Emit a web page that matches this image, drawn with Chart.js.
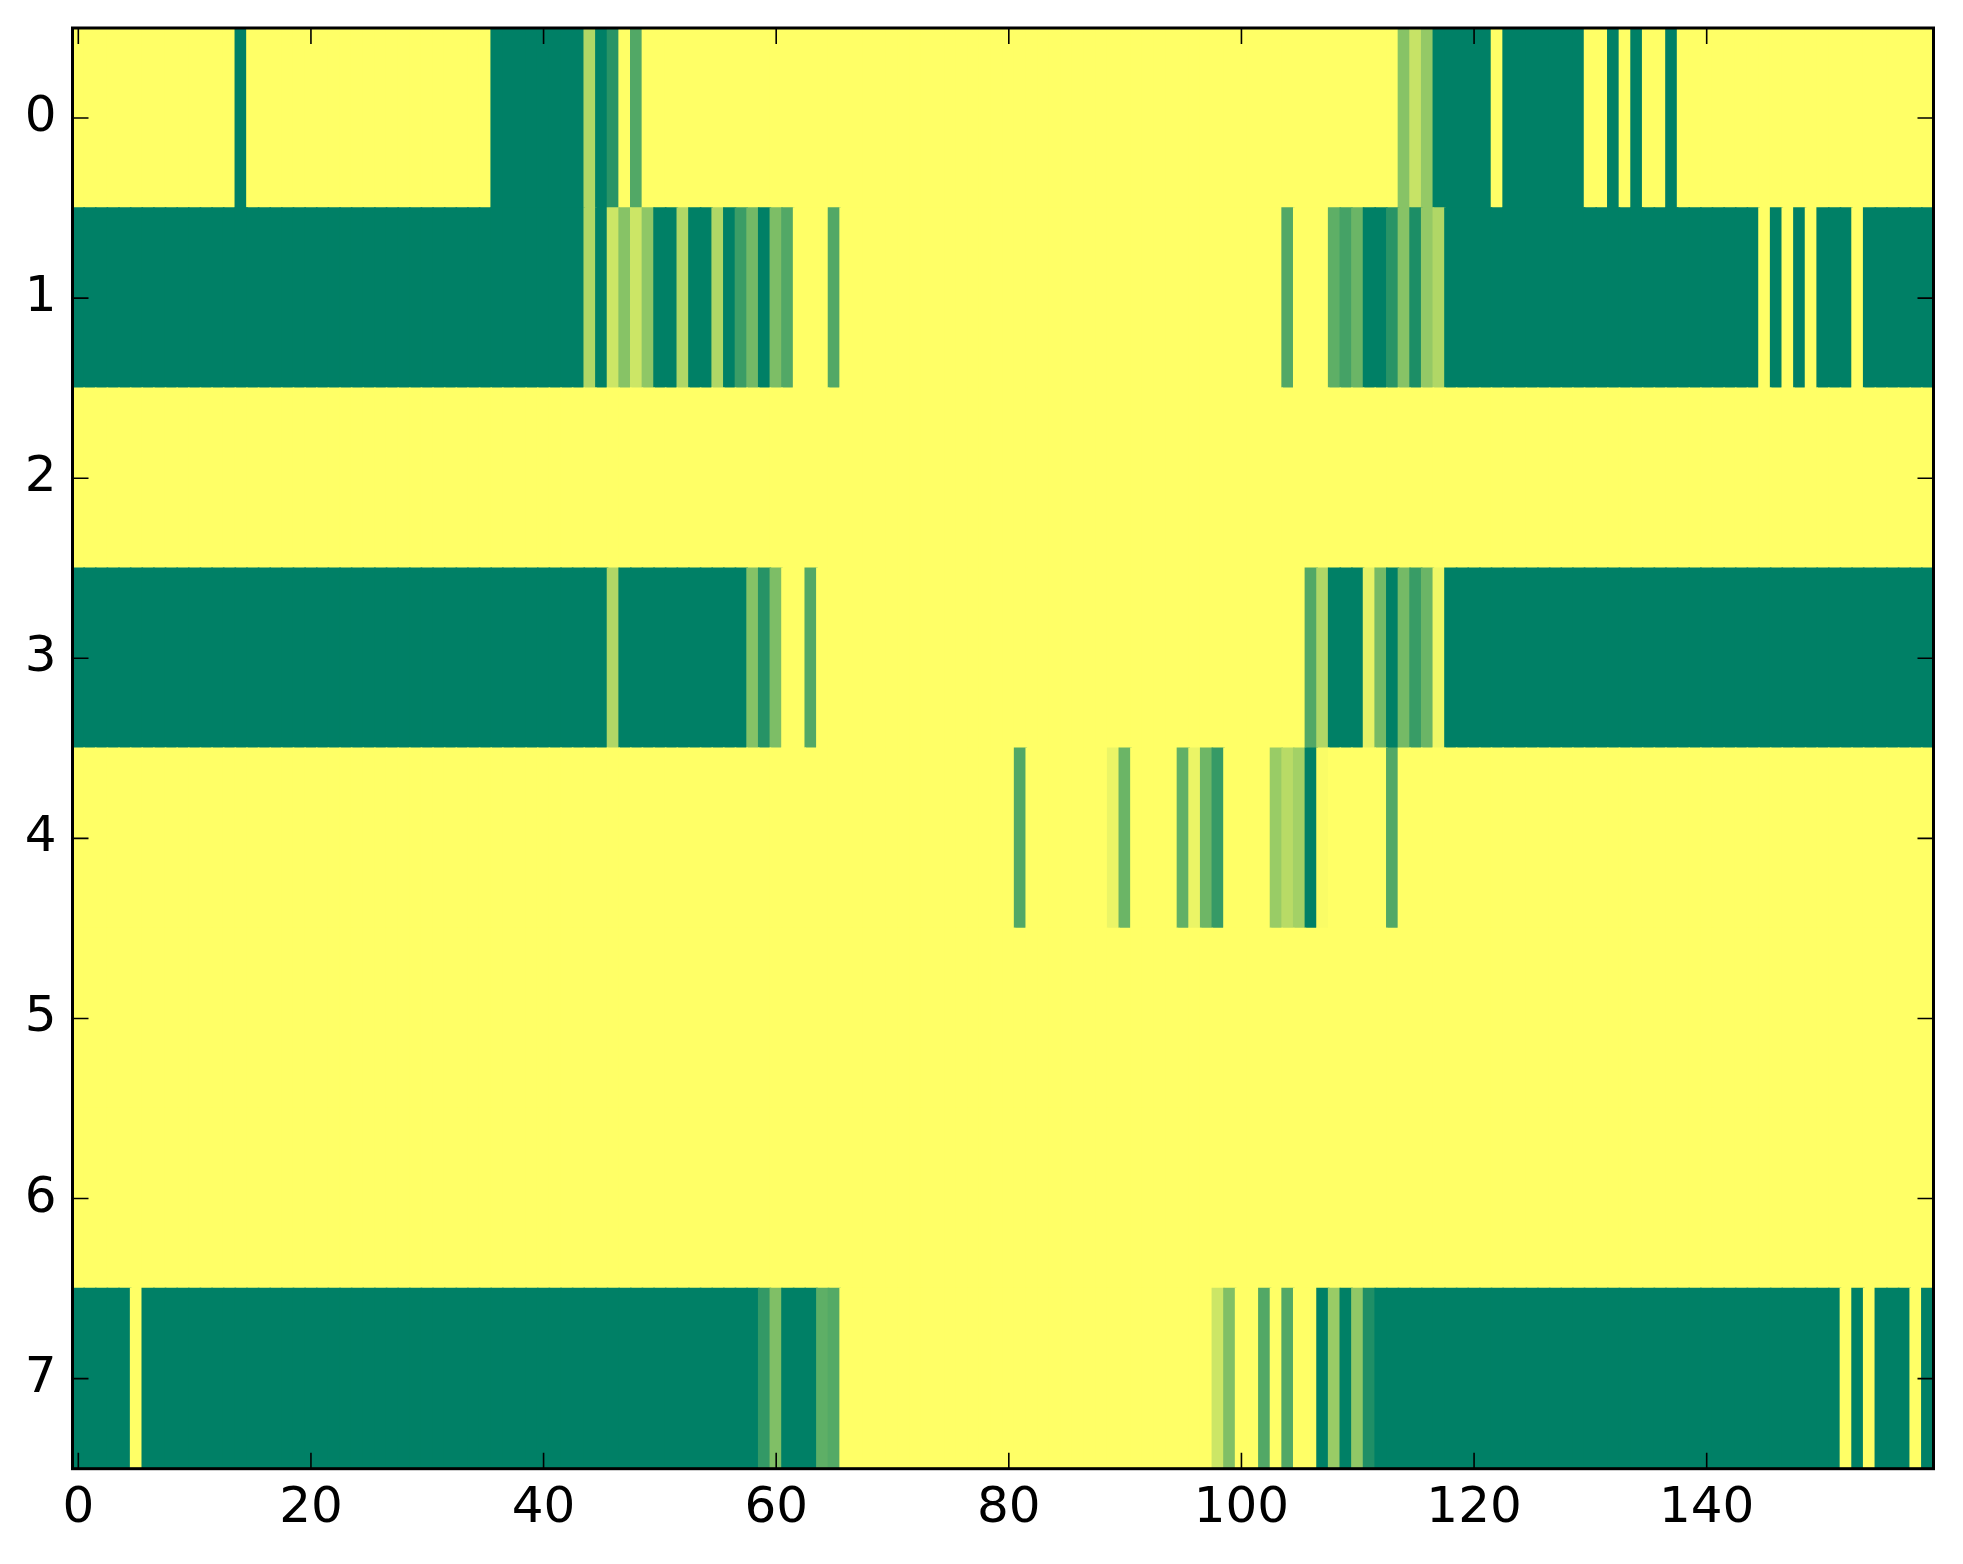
<!DOCTYPE html>
<html>
<head>
<meta charset="utf-8">
<script src="https://cdn.jsdelivr.net/npm/chart.js@4.4.1/dist/chart.umd.min.js"></script>
<style>
  html, body { margin: 0; padding: 0; background: #fff; }
  #wrap { width: 1963px; height: 1564px; }
</style>
</head>
<body>
<div id="wrap"><canvas id="heatmap" width="1963" height="1564"></canvas></div>
<script>
// ====================================================================
// DATA (8 rows x 160 columns, values 0..1 on the "summer" colormap)
// ====================================================================
const rowLabels = [0, 1, 2, 3, 4, 5, 6, 7];
const xTicks = [0, 20, 40, 60, 80, 100, 120, 140];

const row0 = [
  1,1,1,1,1,1,1,1,1,1,1,1,1,1,0,1,1,1,1,1,
  1,1,1,1,1,1,1,1,1,1,1,1,1,1,1,1,0,0,0,0,
  0,0,0,0,0.69,0,0.16,1,0.32,1,1,1,1,1,1,1,1,1,1,1,
  1,1,1,1,1,1,1,1,1,1,1,1,1,1,1,1,1,1,1,1,
  1,1,1,1,1,1,1,1,1,1,1,1,1,1,1,1,1,1,1,1,
  1,1,1,1,1,1,1,1,1,1,1,1,1,1,0.53,0.78,0.58,0,0,0,
  0,0,1,0,0,0,0,0,0,0,1,1,0,1,0,1,1,0,1,1,
  1,1,1,1,1,1,1,1,1,1,1,1,1,1,1,1,1,1,1,1
];
const row1 = [
  0,0,0,0,0,0,0,0,0,0,0,0,0,0,0,0,0,0,0,0,
  0,0,0,0,0,0,0,0,0,0,0,0,0,0,0,0,0,0,0,0,
  0,0,0,0,0.69,0,0.8,0.53,0.8,0.56,0,0,0.69,0,0,0.69,0,0.23,0.45,0,
  0.49,0.32,1,1,1,0.32,1,1,1,1,1,1,1,1,1,1,1,1,1,1,
  1,1,1,1,1,1,1,1,1,1,1,1,1,1,1,1,1,1,1,1,
  1,1,1,1,0.32,1,1,1,0.37,0.27,0.42,0,0,0.16,0.53,0.11,0.58,0.69,0,0,
  0,0,0,0,0,0,0,0,0,0,0,0,0,0,0,0,0,0,0,0,
  0,0,0,0,0,1,0,1,0,1,0,0,0,1,0,0,0,0,0,0
];
const row2 = [
  1,1,1,1,1,1,1,1,1,1,1,1,1,1,1,1,1,1,1,1,
  1,1,1,1,1,1,1,1,1,1,1,1,1,1,1,1,1,1,1,1,
  1,1,1,1,1,1,1,1,1,1,1,1,1,1,1,1,1,1,1,1,
  1,1,1,1,1,1,1,1,1,1,1,1,1,1,1,1,1,1,1,1,
  1,1,1,1,1,1,1,1,1,1,1,1,1,1,1,1,1,1,1,1,
  1,1,1,1,1,1,1,1,1,1,1,1,1,1,1,1,1,1,1,1,
  1,1,1,1,1,1,1,1,1,1,1,1,1,1,1,1,1,1,1,1,
  1,1,1,1,1,1,1,1,1,1,1,1,1,1,1,1,1,1,1,1
];
const row3 = [
  0,0,0,0,0,0,0,0,0,0,0,0,0,0,0,0,0,0,0,0,
  0,0,0,0,0,0,0,0,0,0,0,0,0,0,0,0,0,0,0,0,
  0,0,0,0,0,0,0.69,0,0,0,0,0,0,0,0,0,0,0,0.52,0.15,
  0.49,1,1,0.32,1,1,1,1,1,1,1,1,1,1,1,1,1,1,1,1,
  1,1,1,1,1,1,1,1,1,1,1,1,1,1,1,1,1,1,1,1,
  1,1,1,1,1,1,0.32,0.69,0,0,0,0.9,0.46,0,0.46,0.22,0.42,0.94,0,0,
  0,0,0,0,0,0,0,0,0,0,0,0,0,0,0,0,0,0,0,0,
  0,0,0,0,0,0,0,0,0,0,0,0,0,0,0,0,0,0,0,0
];
const row4 = [
  1,1,1,1,1,1,1,1,1,1,1,1,1,1,1,1,1,1,1,1,
  1,1,1,1,1,1,1,1,1,1,1,1,1,1,1,1,1,1,1,1,
  1,1,1,1,1,1,1,1,1,1,1,1,1,1,1,1,1,1,1,1,
  1,1,1,1,1,1,1,1,1,1,1,1,1,1,1,1,1,1,1,1,
  1,0.32,1,1,1,1,1,1,1,0.92,0.42,1,1,1,1,0.38,0.92,0.43,0.21,1,
  1,1,1,0.6,0.72,0.64,0,0.98,1,1,1,1,1,0.32,1,1,1,1,1,1,
  1,1,1,1,1,1,1,1,1,1,1,1,1,1,1,1,1,1,1,1,
  1,1,1,1,1,1,1,1,1,1,1,1,1,1,1,1,1,1,1,1
];
const row5 = [
  1,1,1,1,1,1,1,1,1,1,1,1,1,1,1,1,1,1,1,1,
  1,1,1,1,1,1,1,1,1,1,1,1,1,1,1,1,1,1,1,1,
  1,1,1,1,1,1,1,1,1,1,1,1,1,1,1,1,1,1,1,1,
  1,1,1,1,1,1,1,1,1,1,1,1,1,1,1,1,1,1,1,1,
  1,1,1,1,1,1,1,1,1,1,1,1,1,1,1,1,1,1,1,1,
  1,1,1,1,1,1,1,1,1,1,1,1,1,1,1,1,1,1,1,1,
  1,1,1,1,1,1,1,1,1,1,1,1,1,1,1,1,1,1,1,1,
  1,1,1,1,1,1,1,1,1,1,1,1,1,1,1,1,1,1,1,1
];
const row6 = [
  1,1,1,1,1,1,1,1,1,1,1,1,1,1,1,1,1,1,1,1,
  1,1,1,1,1,1,1,1,1,1,1,1,1,1,1,1,1,1,1,1,
  1,1,1,1,1,1,1,1,1,1,1,1,1,1,1,1,1,1,1,1,
  1,1,1,1,1,1,1,1,1,1,1,1,1,1,1,1,1,1,1,1,
  1,1,1,1,1,1,1,1,1,1,1,1,1,1,1,1,1,1,1,1,
  1,1,1,1,1,1,1,1,1,1,1,1,1,1,1,1,1,1,1,1,
  1,1,1,1,1,1,1,1,1,1,1,1,1,1,1,1,1,1,1,1,
  1,1,1,1,1,1,1,1,1,1,1,1,1,1,1,1,1,1,1,1
];
const row7 = [
  0,0,0,0,0,1,0,0,0,0,0,0,0,0,0,0,0,0,0,0,
  0,0,0,0,0,0,0,0,0,0,0,0,0,0,0,0,0,0,0,0,
  0,0,0,0,0,0,0,0,0,0,0,0,0,0,0,0,0,0,0,0.2,
  0.5,0,0,0,0.37,0.33,1,1,1,1,1,1,1,1,1,1,1,1,1,1,
  1,1,1,1,1,1,1,1,1,1,1,1,1,1,1,1,1,1,0.8,0.5,
  1,1,0.32,1,0.32,1,1,0,0.6,0,0.57,0.12,0,0,0,0,0,0,0,0,
  0,0,0,0,0,0,0,0,0,0,0,0,0,0,0,0,0,0,0,0,
  0,0,0,0,0,0,0,0,0,0,0,0,1,0,1,0,0,0,1,0
];

const rows = [row0, row1, row2, row3, row4, row5, row6, row7];

// matplotlib "summer": r = v, g = 0.5 + 0.5v, b = 0.4
function summer(v) {
  const r = Math.round(255 * v);
  const g = Math.round(255 * (0.5 + 0.5 * v));
  return `rgb(${r}, ${g}, 102)`;
}

// one floating bar per cell, rows on the (reversed) index axis
const cells = [];
const cellColors = [];
rows.forEach((vals, r) => {
  vals.forEach((v, c) => {
    cells.push({ x: [c - 0.5, c + 0.5], y: rowLabels[r] });
    cellColors.push(summer(v));
  });
});

// frame + inward ticks on all four sides (matplotlib classic look)
const framePlugin = {
  id: 'frame',
  afterDatasetsDraw(chart) {
    const { ctx, chartArea: a, scales: { x, y } } = chart;
    const len = 16;
    ctx.save();
    ctx.strokeStyle = '#000';
    ctx.lineWidth = 1.6;
    ctx.beginPath();
    xTicks.forEach(v => {
      const px = x.getPixelForValue(v);
      ctx.moveTo(px, a.bottom); ctx.lineTo(px, a.bottom - len);
      ctx.moveTo(px, a.top); ctx.lineTo(px, a.top + len);
    });
    rowLabels.forEach(v => {
      const py = y.getPixelForValue(v);
      ctx.moveTo(a.left, py); ctx.lineTo(a.left + len, py);
      ctx.moveTo(a.right, py); ctx.lineTo(a.right - len, py);
    });
    ctx.stroke();
    ctx.lineWidth = 3;
    ctx.strokeRect(a.left, a.top, a.right - a.left, a.bottom - a.top);
    ctx.restore();
  }
};

const tickFont = { family: 'DejaVu Sans', size: 50 };

new Chart(document.getElementById('heatmap').getContext('2d'), {
  type: 'bar',
  data: {
    datasets: [{
      data: cells,
      backgroundColor: cellColors,
      borderWidth: 0,
      inflateAmount: 0.8,
      barPercentage: 1,
      categoryPercentage: 1
    }]
  },
  options: {
    indexAxis: 'y',
    responsive: false,
    animation: false,
    devicePixelRatio: 1,
    layout: { padding: { top: 28, right: 29.5, left: 0, bottom: 0 } },
    plugins: {
      legend: { display: false },
      tooltip: { enabled: false }
    },
    scales: {
      x: {
        type: 'linear',
        position: 'bottom',
        offset: false,
        min: -0.5,
        max: 159.5,
        grid: { display: false, drawTicks: false, offset: false },
        border: { display: false },
        ticks: { font: tickFont, color: '#000', padding: 10, maxRotation: 0, autoSkip: false },
        afterBuildTicks: s => { s.ticks = xTicks.map(v => ({ value: v })); },
        afterFit: s => { s.height = 95.3; s.paddingLeft = 0; s.paddingRight = 0; }
      },
      y: {
        type: 'linear',
        reverse: true,
        offset: false,
        min: -0.5,
        max: 7.5,
        grid: { display: false, drawTicks: false, offset: false },
        border: { display: false },
        ticks: { font: tickFont, color: '#000', padding: 16, autoSkip: false },
        afterBuildTicks: s => { s.ticks = rowLabels.map(v => ({ value: v })); },
        afterFit: s => { s.width = 72.5; s.paddingTop = 0; s.paddingBottom = 0; }
      }
    }
  },
  plugins: [framePlugin]
});
</script>
</body>
</html>
